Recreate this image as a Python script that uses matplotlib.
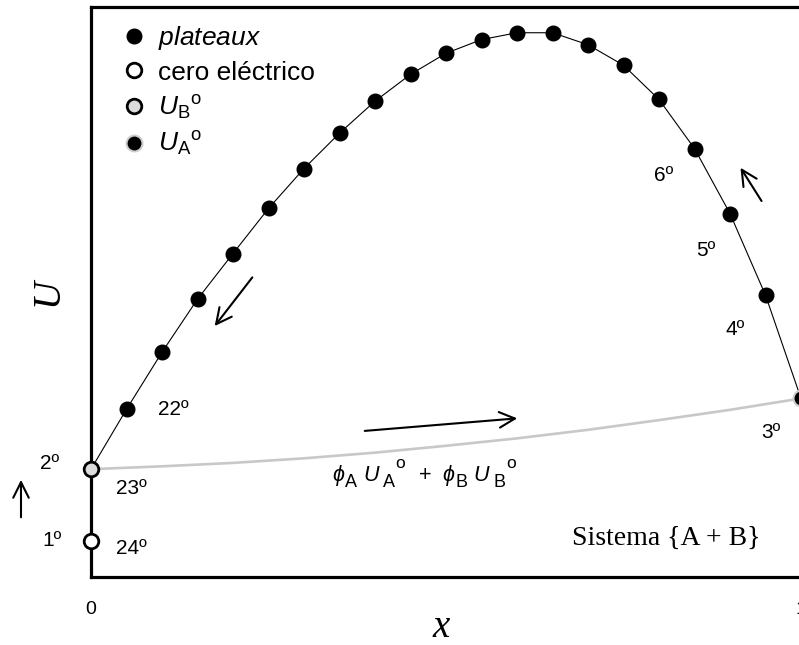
import matplotlib
matplotlib.use('Agg')
import matplotlib.pyplot as plt

plt.rcParams['font.family'] = ['Liberation Sans', 'DejaVu Sans']
plt.rcParams['mathtext.fontset'] = 'custom'
plt.rcParams['mathtext.rm'] = 'Liberation Sans'
plt.rcParams['mathtext.it'] = 'Liberation Sans:italic'

# datos (escala arbitraria 0..1)
x_plat = [0.05, 0.10, 0.15, 0.20, 0.25, 0.30, 0.35, 0.40, 0.45, 0.50,
          0.55, 0.60, 0.65, 0.70, 0.75, 0.80, 0.85, 0.90, 0.95]
u_plat = [0.294, 0.394, 0.487, 0.567, 0.646, 0.716, 0.778, 0.834, 0.881, 0.918,
          0.942, 0.954, 0.954, 0.933, 0.897, 0.837, 0.751, 0.637, 0.494]
x_cero, u_cero = 0.0, 0.063
x_B, u_B = 0.0, 0.189
x_A, u_A = 1.0, 0.313
# mezcla ideal phiA*UA + phiB*UB
x_ideal = [0.0, 0.1, 0.2, 0.3, 0.4, 0.5, 0.6, 0.7, 0.8, 0.9, 1.0]
u_ideal = [0.189, 0.194, 0.200, 0.208, 0.218, 0.230, 0.243, 0.258, 0.275, 0.293, 0.313]

fig = plt.figure(figsize=(7.99, 6.45), dpi=100)
ax = fig.add_axes([91/799, 68/645, 710/799, 570.5/645])

ax.plot(x_ideal, u_ideal, color='#c8c8c8', lw=1.9, zorder=2, clip_on=False)
ax.plot([x_B] + x_plat + [x_A], [u_B] + u_plat + [u_A], color='black', lw=0.8, zorder=3, clip_on=False)

ms = 10.5
h1, = ax.plot(x_plat, u_plat, 'o', color='black', ms=ms, zorder=5, clip_on=False, label='$\\it{plateaux}$')
h2, = ax.plot([x_cero], [u_cero], 'o', mfc='white', mec='black', mew=2, ms=ms, zorder=6, clip_on=False,
              label='cero eléctrico')
h3, = ax.plot([x_B], [u_B], 'o', mfc='#dcdcdc', mec='black', mew=2, ms=ms, zorder=6, clip_on=False,
              label='$U_{\\rm B}{}^{\\rm o}$')
h4, = ax.plot([x_A], [u_A], 'o', mfc='black', mec='#d0d0d0', mew=1.5, ms=11.5, zorder=6, clip_on=False,
              label='$U_{\\rm A}{}^{\\rm o}$')

ax.legend(handles=[h1, h2, h3, h4], loc='upper left', bbox_to_anchor=(0.035, 0.988), frameon=False,
          fontsize=19, handlelength=0.6, handletextpad=0.6, labelspacing=0.33, borderaxespad=0)

ax.set_xlim(0, 1)
ax.set_ylim(0, 1)
ax.set_xticks([0, 1])
ax.set_xticklabels(['0', '1'], fontsize=14)
ax.set_yticks([])
ax.tick_params(axis='x', length=0, pad=17)
for s in ax.spines.values():
    s.set_linewidth(2.3)

ax.text(-0.0606, 0.499, 'U', rotation=90, transform=ax.transAxes, ha='center', va='center',
        fontsize=28, family='Liberation Serif', style='italic')
ax.text(0.493, -0.089, 'x', transform=ax.transAxes, ha='center', va='center',
        fontsize=28, family='Liberation Serif', style='italic', clip_on=False)

# etiquetas de orden
etiquetas = [('22º', 0.1155, 0.294), ('23º', 0.0563, 0.156), ('24º', 0.0563, 0.0508),
             ('2º', -0.0577, 0.1996), ('1º', -0.0549, 0.0648), ('6º', 0.807, 0.704),
             ('5º', 0.866, 0.5727), ('4º', 0.907, 0.434), ('3º', 0.9577, 0.254)]
for t, xx, yy in etiquetas:
    ax.text(xx, yy, t, ha='center', va='center', fontsize=15, clip_on=False)

# formula phiA UA + phiB UB, montada pieza a pieza (subindices grandes como en el original)
y_base = 0.1687
piezas = [('ϕ', 15.5, 'italic', 0, 0), ('A', 13, 'normal', 0.5, -4.3),
          ('U', 15.5, 'italic', 4.5, 0), ('A', 13, 'normal', 3.5, -4.3), ('o', 12.5, 'normal', 0, 9),
          ('+', 15.5, 'normal', 10, 0),
          ('ϕ', 15.5, 'italic', 8, 0), ('B', 13, 'normal', 0.5, -4.3),
          ('U', 15.5, 'italic', 4.5, 0), ('B', 13, 'normal', 3.5, -4.3), ('o', 12.5, 'normal', 0, 9)]
prev = ax.text(0.3394, y_base, piezas[0][0], fontsize=piezas[0][1], style=piezas[0][2],
               ha='left', va='baseline')
for s, fs, st, gap, dy in piezas[1:]:
    prev = ax.annotate(s, xy=(1, y_base), xycoords=(prev, 'data'), xytext=(gap, dy),
                       textcoords='offset points', fontsize=fs, style=st, ha='left', va='baseline')

ax.text(0.81, 0.0683, 'Sistema {A + B}', ha='center', va='center', fontsize=20, family='Liberation Serif')

# flechas
ap = dict(arrowstyle='->', lw=1.5, color='black', mutation_scale=28)
ax.annotate('', xy=(0.1718, 0.436), xytext=(0.2296, 0.529), arrowprops=ap)
ax.annotate('', xy=(0.6042, 0.2785), xytext=(0.3817, 0.2557), arrowprops=ap)
ax.annotate('', xy=(0.9127, 0.7215), xytext=(0.9465, 0.655), arrowprops=ap)
ax.annotate('', xy=(-0.0986, 0.1751), xytext=(-0.0986, 0.0998), arrowprops=ap, annotation_clip=False)

fig.savefig('out.png', dpi=100)
